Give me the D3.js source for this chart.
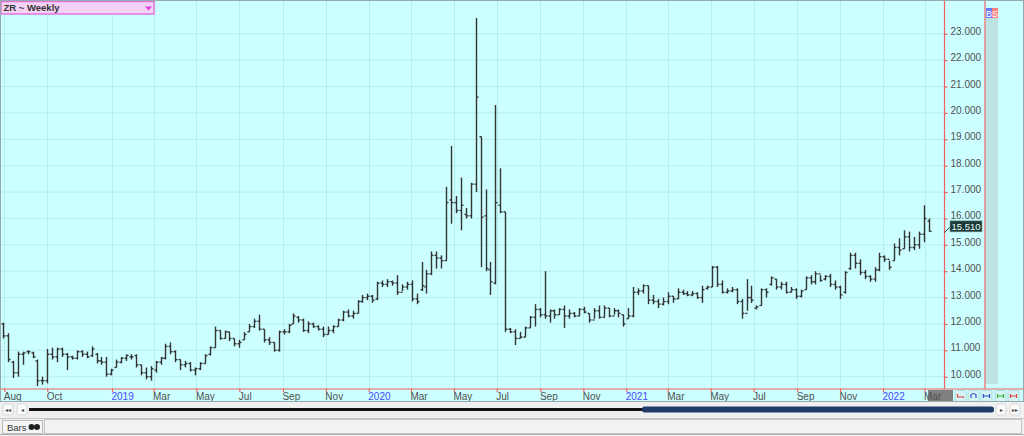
<!DOCTYPE html>
<html><head><meta charset="utf-8">
<script src="https://cdn.jsdelivr.net/npm/d3@7"></script>
<style>body{margin:0;background:#f0f0f0;overflow:hidden}svg{display:block}</style>
</head><body><svg id="c" width="1024" height="436"></svg>
<script>
const firstWeek = [2018, 6, 30];
const highs = [12.05,11.65,10.6,10.95,10.95,11.0,10.95,10.65,10.0,11.05,11.1,11.1,11.1,10.9,10.8,11.0,11.0,10.95,11.15,10.9,10.75,10.75,10.3,10.65,10.75,10.85,10.85,10.85,10.45,10.35,10.4,10.6,10.75,11.25,11.3,11.0,10.65,10.6,10.55,10.35,10.55,10.85,11.15,11.9,11.75,11.75,11.7,11.45,11.4,11.7,12.0,12.2,12.35,11.8,11.5,11.3,11.75,11.8,12.0,12.4,12.3,12.2,12.1,12.05,11.95,11.9,11.9,11.95,12.2,12.5,12.55,12.5,12.9,13.1,13.15,13.1,13.6,13.65,13.7,13.65,13.85,13.5,13.6,13.65,13.15,14.35,14.05,14.75,14.75,14.6,17.2,18.75,16.85,17.55,16.4,17.35,23.6,19.1,17.1,14.35,20.3,17.9,16.25,11.85,11.8,11.7,11.9,12.3,12.75,12.6,14.0,12.55,12.55,12.6,12.7,12.55,12.45,12.6,12.65,12.4,12.6,12.7,12.7,12.6,12.6,12.55,12.35,12.6,13.4,13.35,13.5,13.45,13.1,12.95,13.0,13.2,13.05,13.35,13.3,13.25,13.25,13.2,13.45,13.45,14.2,14.2,13.65,13.35,13.4,13.35,12.95,13.7,13.45,12.7,13.35,13.35,13.8,13.7,13.6,13.6,13.4,13.35,13.3,13.8,13.85,14.0,13.85,13.85,13.9,13.65,13.45,14.0,14.7,14.7,14.45,14.05,13.85,14.15,14.7,14.6,14.4,15.05,15.25,15.55,15.5,15.3,15.5,16.5,16.0];
const lows = [11.45,10.55,9.95,10.0,10.45,10.85,10.7,9.65,9.7,9.75,10.65,10.55,10.75,10.25,10.65,10.65,10.75,10.7,10.75,10.5,10.45,10.0,10.05,10.35,10.5,10.6,10.65,10.35,10.05,9.9,9.85,10.15,10.45,10.65,10.85,10.55,10.25,10.35,10.2,10.05,10.25,10.5,10.8,11.1,11.4,11.45,11.35,11.15,11.1,11.4,11.7,11.85,11.75,11.3,11.2,10.95,10.95,11.6,11.65,12.0,12.05,11.7,11.65,11.85,11.75,11.5,11.6,11.65,11.9,12.1,12.25,12.2,12.4,12.8,12.9,12.8,12.9,13.4,13.4,13.45,13.1,13.25,13.3,12.85,12.75,13.25,13.15,13.85,14.1,14.1,14.4,15.8,16.2,15.55,16.0,16.0,17.0,14.15,14.0,13.1,13.5,16.2,11.7,11.65,11.2,11.45,11.5,11.85,11.9,12.25,12.2,12.05,12.2,12.35,11.85,12.2,12.25,12.3,12.4,12.05,12.2,12.2,12.25,12.25,12.35,12.25,11.9,12.2,12.25,13.1,13.15,12.75,12.75,12.6,12.7,12.75,12.8,12.95,13.1,13.05,13.05,12.95,12.8,13.3,13.4,13.4,13.15,13.15,13.2,12.75,12.2,12.5,12.8,12.55,12.7,13.0,13.45,13.3,13.3,13.15,13.2,12.95,13.0,13.3,13.5,13.5,13.6,13.65,13.4,13.3,12.95,13.15,14.05,14.1,13.85,13.7,13.6,13.6,14.0,14.35,14.05,14.4,14.6,14.85,14.75,14.8,14.85,15.1,15.5];
const opens = [12.0,11.55,10.55,10.15,10.85,10.95,10.9,10.6,9.85,9.85,10.85,10.75,11.05,10.85,10.75,10.7,10.95,10.85,10.8,10.85,10.6,10.55,10.1,10.35,10.55,10.7,10.75,10.8,10.45,10.15,10.0,10.25,10.55,10.7,11.15,10.95,10.65,10.45,10.5,10.25,10.3,10.5,10.85,11.1,11.75,11.45,11.7,11.45,11.25,11.4,11.7,11.9,12.1,11.8,11.4,11.3,11.0,11.7,11.7,12.0,12.25,12.15,11.75,12.0,11.9,11.8,11.6,11.75,11.9,12.15,12.45,12.3,12.4,12.85,13.0,13.05,12.95,13.55,13.5,13.6,13.55,13.2,13.4,13.5,12.95,13.3,13.4,13.9,14.6,14.5,14.4,16.7,16.6,16.3,16.15,16.1,17.3,19.1,16.1,14.05,13.55,16.5,16.25,11.8,11.7,11.45,11.5,11.85,12.25,12.55,12.35,12.3,12.5,12.35,12.55,12.3,12.4,12.3,12.55,12.4,12.15,12.5,12.25,12.6,12.3,12.5,12.35,12.2,12.3,13.2,13.25,13.45,12.9,12.85,12.75,12.85,13.05,12.95,13.2,13.15,13.1,13.15,13.0,13.35,13.4,14.15,13.5,13.2,13.25,13.3,12.85,12.4,13.0,12.6,12.7,13.3,13.5,13.7,13.4,13.5,13.2,13.3,13.05,13.3,13.75,13.6,13.9,13.7,13.8,13.5,13.4,13.2,14.1,14.6,14.3,13.95,13.8,13.7,14.05,14.55,14.45,14.4,14.9,14.85,15.3,14.9,15.0,15.4,15.9];
const closes = [11.55,10.65,10.15,10.85,10.9,10.95,10.75,9.85,9.85,10.85,10.75,11.05,10.85,10.75,10.7,10.95,10.85,10.75,11.05,10.6,10.55,10.1,10.25,10.55,10.7,10.8,10.75,10.45,10.15,10.0,10.3,10.55,10.7,11.15,10.95,10.65,10.45,10.5,10.25,10.3,10.5,10.8,11.1,11.75,11.45,11.7,11.45,11.25,11.3,11.6,11.9,12.1,11.8,11.4,11.3,11.0,11.7,11.7,11.95,12.3,12.15,11.75,12.0,11.9,11.8,11.6,11.75,11.9,12.15,12.45,12.3,12.4,12.85,13.0,13.05,12.9,13.55,13.5,13.6,13.55,13.2,13.4,13.5,12.95,12.85,13.45,13.9,14.6,14.5,14.4,16.6,16.6,16.3,16.5,16.1,17.3,20.6,16.05,14.1,13.6,16.6,16.25,11.8,11.7,11.45,11.5,11.85,12.25,12.55,12.35,12.3,12.5,12.35,12.55,12.3,12.4,12.3,12.55,12.45,12.15,12.5,12.25,12.6,12.3,12.5,12.4,12.0,12.3,13.2,13.25,13.45,12.9,12.85,12.75,12.85,13.05,12.95,13.2,13.15,13.1,13.15,13.0,13.3,13.4,14.15,13.5,13.2,13.25,13.3,12.85,12.4,13.0,12.9,12.65,13.3,13.2,13.75,13.4,13.5,13.2,13.3,13.05,13.25,13.75,13.6,13.9,13.65,13.8,13.5,13.4,13.1,13.95,14.6,14.3,13.95,13.8,13.7,14.05,14.55,14.45,14.15,14.9,14.8,15.3,14.9,15.0,15.4,16.0,15.51];
const lastPrice = 15.51;
const yTicks = [10,11,12,13,14,15,16,17,18,19,20,21,22,23];
const xTickDates = ["2018-08-01","2018-10-01","2019-01-01","2019-03-01","2019-05-01","2019-07-01","2019-09-01","2019-11-01","2020-01-01","2020-03-01","2020-05-01","2020-07-01","2020-09-01","2020-11-01","2021-01-01","2021-03-01","2021-05-01","2021-07-01","2021-09-01","2021-11-01","2022-01-01","2022-03-01"];
const title = "ZR ~ Weekly";

const svg = d3.select("#c");
const W = 1024, H = 436;
const plotR = 944.5, axisY = 389;
const font = "'Liberation Sans', Arial, sans-serif";

const parse = d3.timeParse("%Y-%m-%d");
const x = d3.scaleTime().domain([new Date(2019,0,1), new Date(2022,0,1)]).range([112, 883]);
const y = d3.scaleLinear().domain([10, 23]).range([376.7, 33.8]);

const start = new Date(firstWeek[0], firstWeek[1], firstWeek[2]);
const bars = highs.map((h, i) => ({date: d3.timeDay.offset(start, 7*i), h, l: lows[i], o: opens[i], c: closes[i]}));

// backgrounds
svg.append("rect").attr("x",0).attr("y",0).attr("width",W).attr("height",402).attr("fill","#ccffff");
svg.append("rect").attr("x",0).attr("y",402).attr("width",W).attr("height",34).attr("fill","#f0f0f0");

// gridlines
const g = svg.append("g");
g.selectAll(".hg").data(yTicks).join("line")
  .attr("x1",0).attr("x2",plotR).attr("y1",d=>y(d)).attr("y2",d=>y(d))
  .attr("stroke","#b8eded").attr("stroke-width",1);
g.selectAll(".vg").data(xTickDates.map(parse)).join("line")
  .attr("x1",d=>Math.round(x(d))+0.5).attr("x2",d=>Math.round(x(d))+0.5).attr("y1",0).attr("y2",axisY)
  .attr("stroke","#b8eded").attr("stroke-width",1);

// scroll column on right
svg.append("rect").attr("x",986).attr("y",18).attr("width",12).attr("height",366).attr("fill","#bde2e2");

// bars
const bg = svg.append("g").attr("stroke","#333").attr("stroke-width",1.4).attr("fill","none");
bars.forEach(b => {
  const cx = Math.round(x(b.date)) + 0.5;
  bg.append("line").attr("x1",cx).attr("x2",cx).attr("y1",y(b.h)).attr("y2",y(b.l));
  bg.append("line").attr("x1",cx-2).attr("x2",cx).attr("y1",y(b.o)).attr("y2",y(b.o));
  bg.append("line").attr("x1",cx).attr("x2",cx+2).attr("y1",y(b.c)).attr("y2",y(b.c));
});

// gray box at bottom right of axis row
svg.append("rect").attr("x",928).attr("y",390).attr("width",25).attr("height",12).attr("fill","#808080");

// red axis lines
svg.append("line").attr("x1",plotR).attr("x2",plotR).attr("y1",0).attr("y2",axisY).attr("stroke","#f06060").attr("stroke-width",1.2);
svg.append("line").attr("x1",985).attr("x2",985).attr("y1",0).attr("y2",axisY).attr("stroke","#f06060").attr("stroke-width",1.2);
svg.append("line").attr("x1",0).attr("x2",W).attr("y1",axisY).attr("y2",axisY).attr("stroke","#f06060").attr("stroke-width",1.2);

// y axis
const ya = svg.append("g").attr("transform",`translate(${plotR},0)`)
  .call(d3.axisRight(y).tickValues(yTicks).tickSize(3).tickFormat(d3.format(".3f")));
ya.select(".domain").remove();
ya.selectAll(".tick line").attr("stroke","#f06060").attr("stroke-width",1.2);
ya.selectAll(".tick text").attr("x",6).attr("dy","0.05em").attr("fill","#505050")
  .style("font-family",font).style("font-size","10px");

// x axis
const xa = svg.append("g").attr("transform",`translate(0,${axisY})`)
  .call(d3.axisBottom(x).tickValues(xTickDates.map(parse)).tickSize(3)
  .tickFormat(d => d.getMonth()===0 ? d3.timeFormat("%Y")(d) : d3.timeFormat("%b")(d)));
xa.select(".domain").remove();
xa.selectAll(".tick line").attr("stroke","#f06060").attr("stroke-width",1.2);
xa.selectAll(".tick text").attr("text-anchor","start").attr("x",-1).attr("y",4)
  .attr("fill",d => d.getMonth()===0 ? "#4a4aff" : "#505050")
  .style("font-family",font).style("font-size","10px");

// buttons
const btnX = [955,968,981,995,1008];
const btnCol = ["#e04040","#3050d0","#3050d0","#30b030","#e04040"];
btnX.forEach((bx,i) => {
  svg.append("rect").attr("x",bx).attr("y",390.5).attr("width",11).attr("height",11).attr("rx",1.5)
    .attr("fill","#d6f4f4").attr("stroke","#a8d6d6").attr("stroke-width",0.8);
  const ic = svg.append("g").attr("stroke",btnCol[i]).attr("stroke-width",1.2).attr("fill","none");
  const cx = bx+5.5, cy = 396;
  if (i===0) ic.append("path").attr("d",`M${cx-3},${cy-2} V${cy+1} H${cx+3} V${cy+2}`);
  else if (i===1) ic.append("path").attr("d",`M${cx-2.5},${cy+2} V${cy-1} Q${cx},${cy-4} ${cx+2.5},${cy-1} V${cy+2}`);
  else ic.append("path").attr("d",`M${cx-3},${cy-2} V${cy+2} M${cx+3},${cy-2} V${cy+2} M${cx-3},${cy} H${cx+3}`);
});

// price label
const py = y(lastPrice);
svg.append("line").attr("x1",plotR).attr("x2",950).attr("y1",py+1).attr("y2",py-4).attr("stroke","#333").attr("stroke-width",1);
svg.append("rect").attr("x",950).attr("y",py-10.5).attr("width",32).attr("height",11).attr("fill","#1c3a38").attr("stroke","#7a9a9a").attr("stroke-width",0.6);
svg.append("text").attr("x",966).attr("y",py-1.6).attr("text-anchor","middle").attr("fill","#e8ffff")
  .style("font-family",font).style("font-size","9.5px").text(d3.format(".3f")(lastPrice));

// B S buttons
svg.append("rect").attr("x",986).attr("y",8).attr("width",6).attr("height",10).attr("fill","#6b7bff");
svg.append("rect").attr("x",992).attr("y",8).attr("width",6).attr("height",10).attr("fill","#ff7f7f");
svg.append("text").attr("x",989).attr("y",16.5).attr("text-anchor","middle").attr("fill","#fff").style("font-family",font).style("font-size","9px").text("B");
svg.append("text").attr("x",995).attr("y",16.5).attr("text-anchor","middle").attr("fill","#fff").style("font-family",font).style("font-size","9px").text("S");

// title box
svg.append("rect").attr("x",1).attr("y",1.5).attr("width",153).attr("height",12.5).attr("fill","#f6d2f6").attr("stroke","#e070e0").attr("stroke-width",1.4);
svg.append("text").attr("x",3.5).attr("y",11).attr("fill","#333").style("font-family",font).style("font-size","9.5px").style("font-weight","bold").text(title);
svg.append("path").attr("d","M145,6.5 L152,6.5 L148.5,10.5 Z").attr("fill","#e040e0");

// frame
svg.append("rect").attr("x",0.5).attr("y",0.5).attr("width",W-1).attr("height",401).attr("fill","none").attr("stroke","#9aa").attr("stroke-width",1);

// scrollbar row
function btn(bx, label){
  svg.append("rect").attr("x",bx).attr("y",404).attr("width",10).attr("height",11).attr("rx",2)
    .attr("fill","#fafafa").attr("stroke","#d0d0d0").attr("stroke-width",0.8);
  svg.append("text").attr("x",bx+5).attr("y",412).attr("text-anchor","middle").attr("fill","#444")
    .style("font-family",font).style("font-size","6px").text(label);
}
btn(3,"◂◂"); btn(17,"◂"); btn(996,"▸"); btn(1010,"▸▸");
svg.append("line").attr("x1",29).attr("x2",643).attr("y1",409.5).attr("y2",409.5).attr("stroke","#111").attr("stroke-width",3);
svg.append("rect").attr("x",642).attr("y",406.5).attr("width",352).attr("height",6).attr("rx",2.5).attr("fill","#1f3d66");

// bottom toolbar
svg.append("line").attr("x1",0).attr("x2",W).attr("y1",418.5).attr("y2",418.5).attr("stroke","#c8c8c8");
svg.append("rect").attr("x",44.5).attr("y",419.5).attr("width",977).attr("height",14).attr("fill","#f3f3f3").attr("stroke","#c4c4c4");
svg.append("rect").attr("x",2.5).attr("y",420.5).attr("width",40).attr("height",13).attr("fill","#f6f6f6").attr("stroke","#bcbcbc");
svg.append("text").attr("x",7).attr("y",430.5).attr("fill","#333").style("font-family",font).style("font-size","9.5px").text("Bars");
svg.append("circle").attr("cx",31.5).attr("cy",427).attr("r",3).attr("fill","#222");
svg.append("circle").attr("cx",37).attr("cy",427).attr("r",3).attr("fill","#222");
svg.append("line").attr("x1",0).attr("x2",W).attr("y1",434.5).attr("y2",434.5).attr("stroke","#b0b0b0");
</script></body></html>
